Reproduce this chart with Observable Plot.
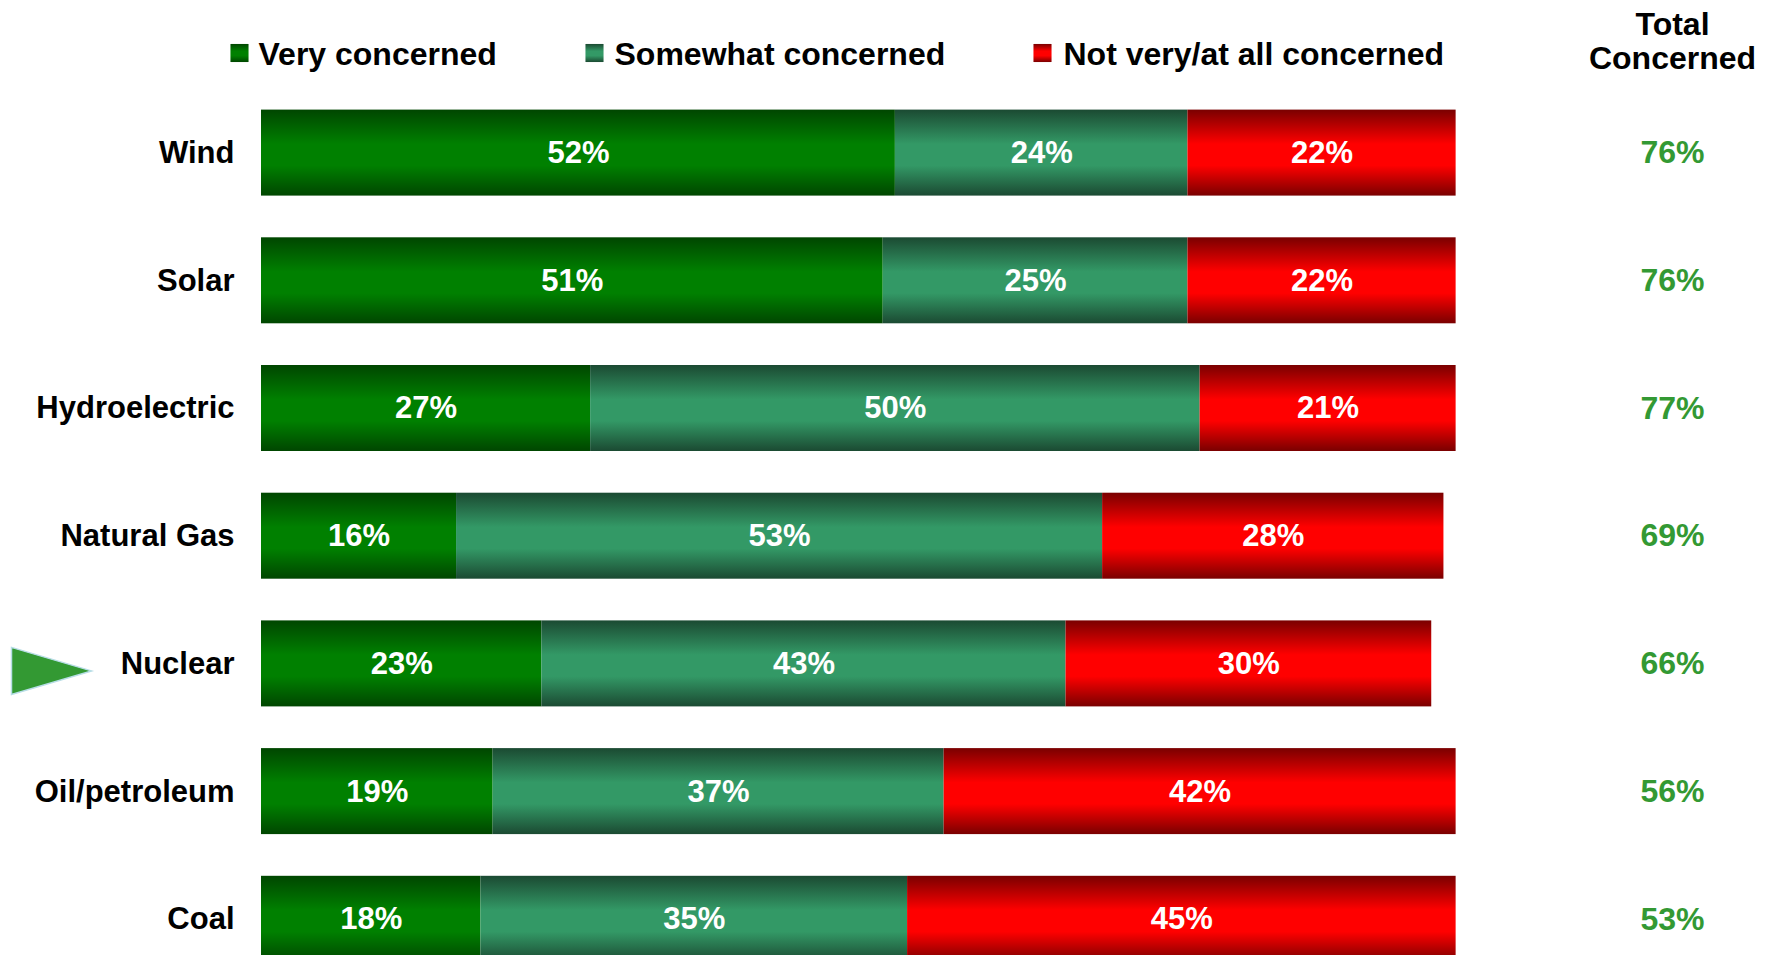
<!DOCTYPE html>
<html>
<head>
<meta charset="utf-8">
<script src="https://cdn.jsdelivr.net/npm/d3@7"></script>
<script src="https://cdn.jsdelivr.net/npm/@observablehq/plot@0.6"></script>
<style>
  html, body { margin: 0; padding: 0; background: #fff; overflow: hidden; }
  #chart svg { display: block; max-width: none; }
</style>
</head>
<body>
<div id="chart"></div>
<script>
// ---- Data ----
const categories = ["Wind", "Solar", "Hydroelectric", "Natural Gas", "Nuclear", "Oil/petroleum", "Coal"];
const seriesNames = ["Very concerned", "Somewhat concerned", "Not very/at all concerned"];
const veryConcerned = [52, 51, 27, 16, 23, 19, 18];
const somewhatConcerned = [24, 25, 50, 53, 43, 37, 35];
const notConcerned = [22, 22, 21, 28, 30, 42, 45];
const totalConcerned = [76, 76, 77, 69, 66, 56, 53];
const totalHeader = "Total\nConcerned";
const highlighted = "Nuclear";

// ---- Tables built from the arrays ----
const seriesValues = [veryConcerned, somewhatConcerned, notConcerned];
const long = [];
categories.forEach((cat, i) => {
  seriesNames.forEach((s, j) => long.push({cat, series: s, value: seriesValues[j][i]}));
});
const totals = categories.map((cat, i) => ({cat, total: totalConcerned[i]}));

// ---- Styles ----
const gradients = [
  {id: "g0", dark: "#004600", mid: "#008000"},
  {id: "g1", dark: "#1b4a32", mid: "#339966"},
  {id: "g2", dark: "#7a0000", mid: "#ff0000"}
];
const fills = gradients.map(g => `url(#${g.id})`);
const FONT = "'Liberation Sans', Arial, Helvetica, sans-serif";
const legendTextDx = [-3, 353, 802];
const legendSwatchDx = [-22, 333, 781];

// custom right-pointing triangle symbol
const arrowSymbol = {
  draw(context) {
    context.moveTo(-40, -23.5);
    context.lineTo(40, 0);
    context.lineTo(-40, 23.5);
    context.closePath();
  }
};

const marks = [
  Plot.barX(long, Plot.stackX({x: "value", y: "cat", z: "series", fill: "series"})),
  Plot.text(long, Plot.stackX({x: "value", y: "cat", z: "series", text: d => d.value + "%", fill: "white", fontSize: 31, fontWeight: "bold"})),
  Plot.axisY({tickSize: 0, tickPadding: 27, fontSize: 31, fontWeight: "bold", label: null, fill: "#000"}),
  Plot.text(totals, {y: "cat", text: d => d.total + "%", frameAnchor: "right", dx: 192, textAnchor: "middle", fill: "#339933", fontSize: 32, fontWeight: "bold"}),
  Plot.text([totalHeader], {frameAnchor: "top-right", dx: 192, dy: 10, lineAnchor: "top", lineHeight: 1.06, textAnchor: "middle", fill: "#000", fontSize: 32, fontWeight: "bold"}),
  Plot.dot(categories.filter(c => c === highlighted), {y: d => d, frameAnchor: "left", dx: -210, dy: 7, symbol: arrowSymbol, fill: "#339933", stroke: "#b7dde6", strokeWidth: 1.5})
];
seriesNames.forEach((s, i) => {
  marks.push(Plot.dot([s], {frameAnchor: "top-left", dx: legendSwatchDx[i], dy: 52.5, symbol: "square", r: 10.2, fill: fills[i]}));
  marks.push(Plot.text([s], {frameAnchor: "top-left", dx: legendTextDx[i], dy: 41.3, lineAnchor: "top", textAnchor: "start", text: d => d, fill: "#000", fontSize: 32, fontWeight: "bold"}));
});

const chart = Plot.plot({
  width: 1769,
  height: 955,
  marginLeft: 261,
  marginRight: 289,
  marginTop: 0,
  marginBottom: 0,
  style: {fontFamily: FONT, fontWeight: "bold", background: "#fff", overflow: "hidden"},
  x: {domain: [0, 100], axis: null},
  y: {domain: categories, range: [88.75, 982.65], paddingInner: 0.3266, paddingOuter: 0.1633, align: 0.5, round: false, label: null},
  color: {domain: seriesNames, range: fills},
  marks
});

// gradient definitions
const defs = d3.select(chart).insert("defs", ":first-child");
gradients.forEach(g => {
  const lg = defs.append("linearGradient").attr("id", g.id).attr("x1", 0).attr("y1", 0).attr("x2", 0).attr("y2", 1);
  lg.append("stop").attr("offset", "0%").attr("stop-color", g.dark);
  lg.append("stop").attr("offset", "40%").attr("stop-color", g.mid);
  lg.append("stop").attr("offset", "65%").attr("stop-color", g.mid);
  lg.append("stop").attr("offset", "100%").attr("stop-color", g.dark);
});

document.getElementById("chart").appendChild(chart);
</script>
</body>
</html>
